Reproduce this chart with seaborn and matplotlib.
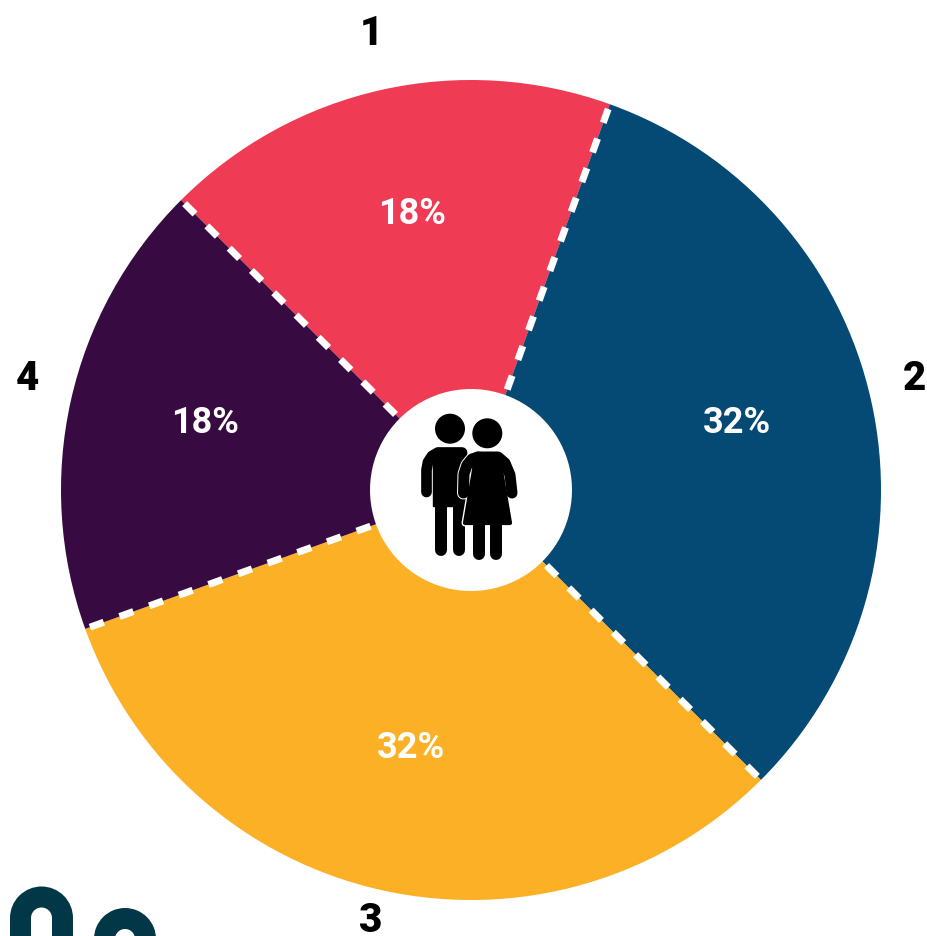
import numpy as np
import matplotlib
matplotlib.use("Agg")
import matplotlib.pyplot as plt
from matplotlib.patches import Circle, Polygon, Wedge, Rectangle
import seaborn as sns

# values
groups = ["1", "2", "3", "4"]
shares = [18, 32, 32, 18]
colors = ["#EF3B53", "#044A75", "#FBB025", "#380A42"]

# layout, in pixels of the 928x936 picture
cx, cy = 471, 490
radius = 410
hole = 101
pct_pos = [(412, 214), (737, 423), (411, 748), (205, 423)]
name_pos = [(371, 33), (915, 379), (371, 920), (27, 379)]
px = 0.72  # one pixel in points at dpi 100

sns.set_theme(style="white")
plt.rcParams["font.family"] = ["Roboto", "DejaVu Sans"]

fig = plt.figure(figsize=(9.28, 9.36), dpi=100)
ax = fig.add_axes([0, 0, 1, 1])

# y axis runs downwards, so angles grow clockwise on screen
ax.pie(shares, colors=sns.color_palette(colors), startangle=225, counterclock=True,
       center=(cx, cy), radius=radius, wedgeprops=dict(width=radius - hole, linewidth=0))
ax.set_xlim(0, 928)
ax.set_ylim(936, 0)
ax.set_aspect("equal")
ax.axis("off")

# dashed white borders between the slices, drawn from the rim inwards
edges = 225 + np.cumsum(shares) / np.sum(shares) * 360
for a in np.deg2rad(edges):
    ax.plot([cx + (radius - 5) * np.cos(a), cx + hole * np.cos(a)],
            [cy + (radius - 5) * np.sin(a), cy + hole * np.sin(a)],
            color="white", lw=7 * px, dash_capstyle="butt", dashes=(2.1, 2.4))

for share, (x, y) in zip(shares, pct_pos):
    ax.text(x, y, f"{share}%", color="white", fontsize=26, fontweight="bold", ha="center", va="center")
for name, (x, y) in zip(groups, name_pos):
    ax.text(x, y, name, color="black", fontsize=29, fontweight="black", ha="center", va="center")


def limb(points, width, color="black", z=5):
    xs, ys = zip(*points)
    ax.plot(xs, ys, color=color, lw=width * px, solid_capstyle="round", solid_joinstyle="round", zorder=z)


# man
ax.add_patch(Circle((450, 428.7), 14.3, color="black", zorder=5))
limb([(426.5, 492), (426.5, 470), (428, 462), (432, 456), (438, 452.5), (462, 452.5)], 10.7)
ax.add_patch(Rectangle((433, 452), 33, 54, color="black", zorder=5))
limb([(441, 500), (441, 550)], 12)
limb([(459, 500), (459, 550)], 12)

# woman, with a thin white outline over the man
left_arm = [(463.5, 493), (464, 474), (467, 465), (472, 459), (478, 457)]
right_arm = [(512, 493), (510, 475), (505, 463), (498, 457), (478, 457)]
body = [(475, 457), (500, 457), (501, 470), (510, 523), (465, 523), (474, 470)]
limb(left_arm, 13, "white", 6)
limb(left_arm, 11, "black", 7)
limb(right_arm, 11, "black", 7)
ax.add_patch(Polygon(body, closed=True, facecolor="white", edgecolor="white", lw=5, joinstyle="round", zorder=6))
ax.add_patch(Polygon(body, closed=True, facecolor="black", edgecolor="black", lw=3, joinstyle="round", zorder=7))
limb([(479, 520), (479, 554)], 12, z=7)
limb([(496.5, 520), (496.5, 554)], 12, z=7)
ax.add_patch(Circle((487.3, 433.3), 14.3, color="black", zorder=7))

# logo cut off at the bottom left corner
logo = "#023748"
ax.add_patch(Wedge((41.5, 918), 31.5, 180, 360, width=21, color=logo, lw=0))
ax.add_patch(Rectangle((10, 918), 21, 20, color=logo, lw=0))
ax.add_patch(Rectangle((52, 918), 21, 20, color=logo, lw=0))
ax.add_patch(Wedge((125, 939), 31, 0, 360, width=21, color=logo, lw=0))

fig.savefig("out.png", dpi=100, facecolor="white")
